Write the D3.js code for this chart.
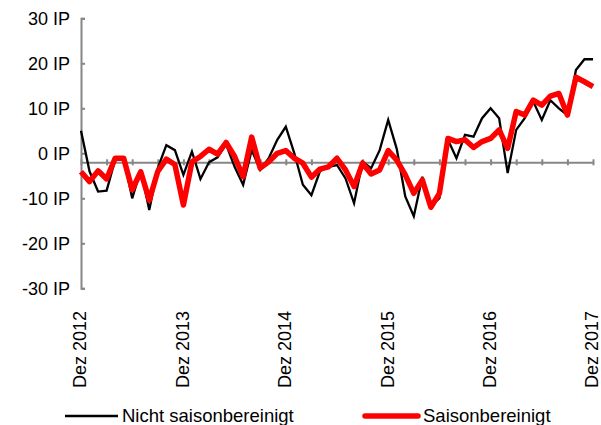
<!DOCTYPE html>
<html>
<head>
<meta charset="utf-8">
<script src="https://cdn.jsdelivr.net/npm/d3@7"></script>
<style>
  body { margin: 0; background: #fff; }
  svg { display: block; font-family: "Liberation Sans", Arial, sans-serif; }
  .axis path, .axis line { stroke: #868686; stroke-width: 2px; }
</style>
</head>
<body>
<div class="center"></div>
<script>
// monthly values, Dez 2012 .. Dez 2017
var nichtSaison = [5, -4, -8.5, -8.3, -1.5, -1, -10, -3.7, -12.6, -3.3, 1.8, 0.7,
  -4.8, 0.4, -5.7, -2, -0.9, 2, -3, -7, 0.7, -3.7, -1.1, 3,
  5.9, 0, -7, -9.3, -4, -3, -2.6, -5.6, -11.1, -1.9, -3.3, 0.7,
  7.4, 1, -9.6, -14, -5.2, -11.8, -10, 3, -1.1, 4.1, 3.7, 7.8,
  10, 7.8, -4.4, 5.2, 7.8, 11.5, 7.4, 11.8, 10, 8.5, 18.5, 20.9, 20.9];

var saison = [-4.1, -6.3, -3.9, -5.7, -1.1, -1.1, -8.1, -4.1, -10.4, -4, -1.3, -2.5,
  -11.5, -1.9, -0.7, 0.9, -0.2, 2.4, -0.7, -5.2, 3.6, -3.3, -1.9, 0,
  0.6, -1.1, -2.2, -5.3, -3.5, -3, -1.1, -3.7, -7.4, -2.2, -4.6, -3.7,
  0.6, -1.5, -4.8, -8.9, -5.9, -12, -8.9, 3.3, 2.6, 3, 1.3, 2.6,
  3.3, 5.2, 1.1, 9.3, 8.5, 11.8, 10.7, 12.7, 13.3, 8.5, 16.9, 15.9, 14.8];

var yTicks = [-30, -20, -10, 0, 10, 20, 30];
var xLabels = ["Dez 2012", "Dez 2013", "Dez 2014", "Dez 2015", "Dez 2016", "Dez 2017"];
var seriesNames = ["Nicht saisonbereinigt", "Saisonbereinigt"];

var width = 601, height = 425;

var x = d3.scaleLinear().domain([0, nichtSaison.length - 1]).range([81, 593]);
var y = d3.scaleLinear().domain([-30, 30]).range([288.3, 18.3]);
var axisCross = -2; // horizontal axis sits a bit below zero

var svg = d3.select(".center").append("svg")
    .attr("width", width)
    .attr("height", height);

// Y axis, ticks pointing inward
var yAxis = svg.append("g")
    .attr("class", "axis")
    .attr("transform", "translate(" + x(0) + ",0)")
    .call(d3.axisRight(y).tickValues(yTicks).tickSize(4).tickFormat(""));

svg.append("g").selectAll("text")
    .data(yTicks)
    .enter().append("text")
    .attr("x", 70)
    .attr("y", function(d) { return y(d); })
    .attr("dy", "0.35em")
    .attr("text-anchor", "end")
    .style("font-size", "18px")
    .text(function(d) { return d + " IP"; });

// X axis at the crossing value, ticks every 3 months
var xTickIdx = d3.range(0, nichtSaison.length, 3);
var xAxis = svg.append("g")
    .attr("class", "axis")
    .attr("transform", "translate(0," + y(axisCross) + ")")
    .call(d3.axisBottom(x).tickValues(xTickIdx).tickSize(3).tickFormat("").tickSizeOuter(0));
xAxis.selectAll(".tick line").attr("y1", -3);

svg.append("g").selectAll("text")
    .data(xLabels)
    .enter().append("text")
    .attr("transform", function(d, i) {
      return "translate(" + (x(i * 12) - 1) + ",311) rotate(-90)";
    })
    .attr("dy", "0.35em")
    .attr("text-anchor", "end")
    .style("font-size", "18px")
    .text(function(d) { return d; });

var line = d3.line()
    .x(function(d, i) { return x(i); })
    .y(function(d) { return y(d); });

svg.append("path")
    .datum(nichtSaison)
    .attr("fill", "none")
    .attr("stroke", "#000")
    .attr("stroke-width", 2.3)
    .attr("d", line);

svg.append("path")
    .datum(saison)
    .attr("fill", "none")
    .attr("stroke", "#ff0000")
    .attr("stroke-width", 5.5)
    .attr("stroke-linejoin", "round")
    .attr("d", line);

// legend
var legend = svg.append("g").attr("class", "legend");

legend.append("line")
    .attr("x1", 65).attr("x2", 118)
    .attr("y1", 416).attr("y2", 416)
    .attr("stroke", "#000")
    .attr("stroke-width", 2.3);

legend.append("text")
    .attr("x", 122)
    .attr("y", 422)
    .style("font-size", "18.5px")
    .text(seriesNames[0]);

legend.append("line")
    .attr("x1", 365).attr("x2", 418)
    .attr("y1", 416).attr("y2", 416)
    .attr("stroke", "#ff0000")
    .attr("stroke-width", 5.5)
    .attr("stroke-linecap", "round");

legend.append("text")
    .attr("x", 423)
    .attr("y", 422)
    .style("font-size", "18.5px")
    .text(seriesNames[1]);
</script>
</body>
</html>
